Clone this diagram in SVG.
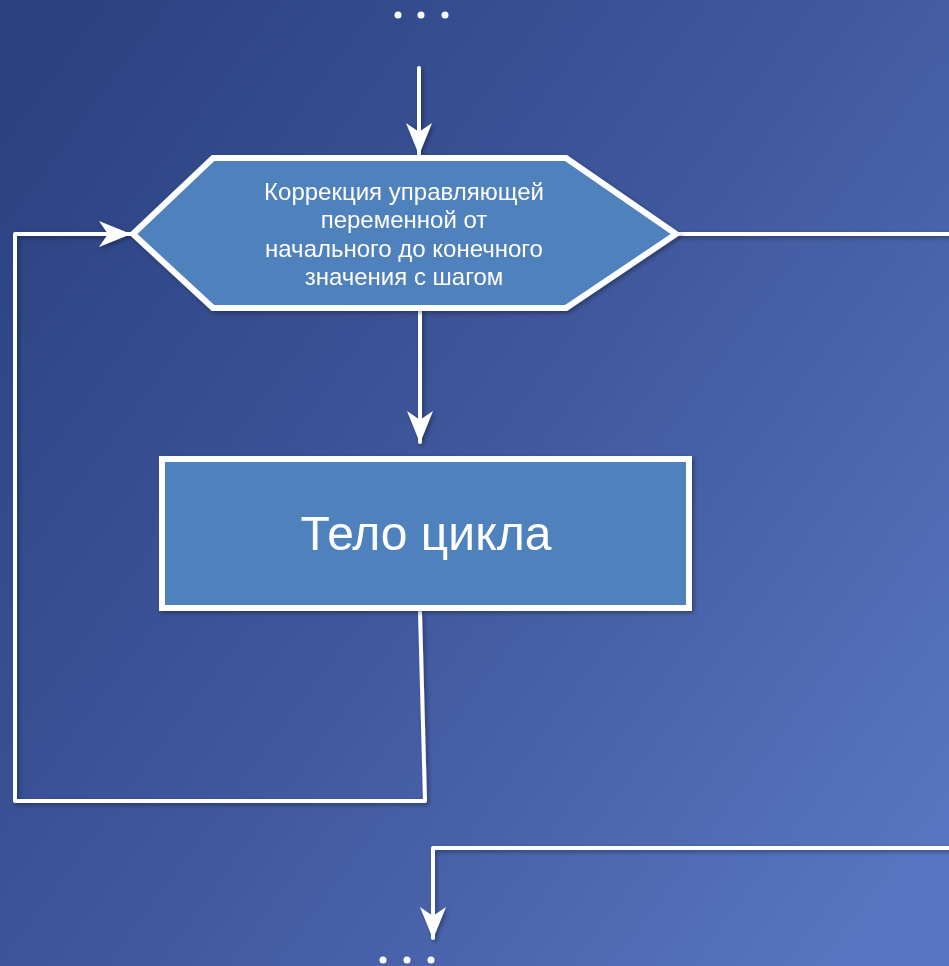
<svg xmlns="http://www.w3.org/2000/svg" width="949" height="966" viewBox="0 0 949 966">
<defs>
<linearGradient id="bg" x1="0" y1="0.1" x2="1" y2="0.85">
<stop offset="0" stop-color="#2b4180"/>
<stop offset="0.5" stop-color="#3f579c"/>
<stop offset="1" stop-color="#5775c0"/>
</linearGradient>
<filter id="sh" x="-10%" y="-10%" width="120%" height="120%">
<feDropShadow dx="2" dy="2" stdDeviation="2" flood-color="#000" flood-opacity="0.35"/>
</filter>
<marker id="ah" viewBox="0 0 32 26" refX="31" refY="13" markerWidth="32" markerHeight="26" markerUnits="userSpaceOnUse" orient="auto">
<path d="M0,0 L32,13 L0,26 L9,13 Z" fill="#ffffff"/>
</marker>
<style>
.ln{fill:none;stroke:#ffffff;stroke-width:4;stroke-linecap:round;stroke-linejoin:round}
.shape{fill:#4f81bd;stroke:#ffffff;stroke-width:6}
.t{font-family:"Liberation Sans",Arial,sans-serif;fill:#ffffff;text-anchor:middle}
.dot{fill:#ffffff}
</style>
</defs>
<rect x="0" y="0" width="949" height="966" fill="url(#bg)"/>
<g id="dots-top">
<circle class="dot" cx="398" cy="15" r="3.5"/>
<circle class="dot" cx="421" cy="15" r="3.5"/>
<circle class="dot" cx="445" cy="15" r="3.5"/>
</g>
<g id="dots-bottom">
<circle class="dot" cx="383" cy="960" r="3.5"/>
<circle class="dot" cx="407" cy="960" r="3.5"/>
<circle class="dot" cx="431" cy="960" r="3.5"/>
</g>
<g id="connectors" filter="url(#sh)">
<path class="ln" d="M419,68 L419,154" marker-end="url(#ah)"/>
<path class="ln" d="M420,311 L420,442" marker-end="url(#ah)"/>
<path class="ln" d="M420,612 L425,801 L15,801 L15,234 L130,234" marker-end="url(#ah)"/>
<path class="ln" d="M678,234 L951,234"/>
<path class="ln" d="M951,848 L433,848 L433,938" marker-end="url(#ah)"/>
</g>
<g id="loop-header" filter="url(#sh)">
<polygon class="shape" points="133,234 213,158 566,158 676,234 566,308 213,308"/>
<text class="t" font-size="24" x="404" y="200">Коррекция управляющей</text>
<text class="t" font-size="24" x="404" y="228">переменной от</text>
<text class="t" font-size="24" x="404" y="257">начального до конечного</text>
<text class="t" font-size="24" x="404" y="285">значения с шагом</text>
</g>
<g id="loop-body" filter="url(#sh)">
<rect class="shape" x="162" y="459" width="527" height="149"/>
<text class="t" font-size="48" x="426" y="550">Тело цикла</text>
</g>
</svg>
